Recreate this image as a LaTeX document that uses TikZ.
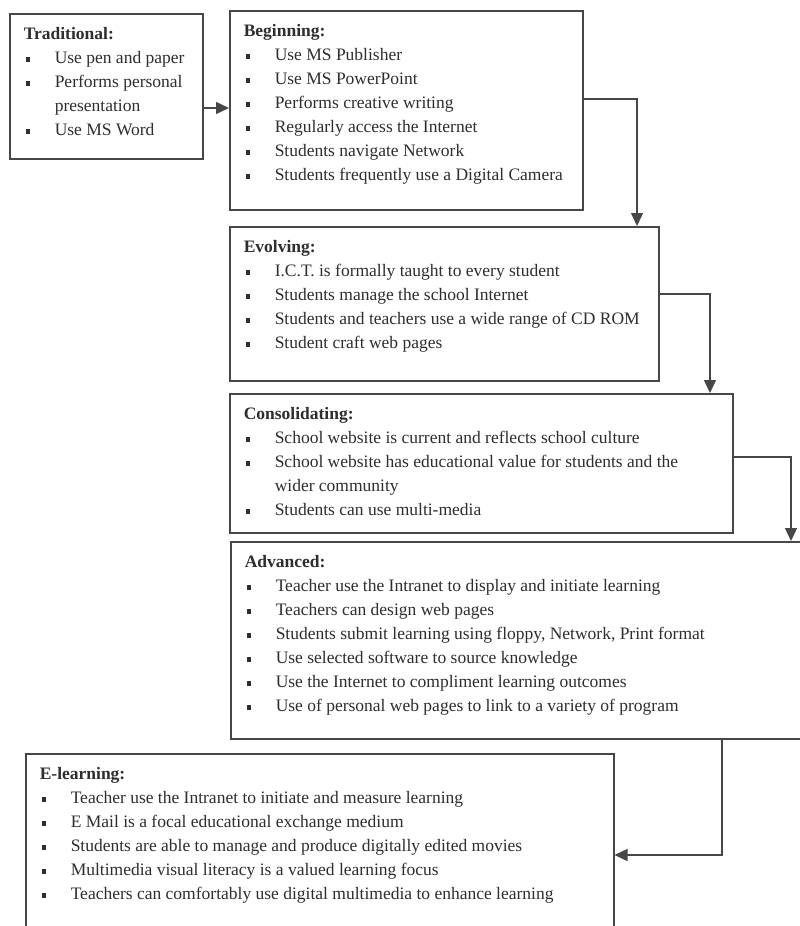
\documentclass[tikz,border=0pt]{standalone}
\usepackage{fontspec}
\setmainfont{Liberation Serif}
\usetikzlibrary{arrows.meta}
\definecolor{ink}{gray}{0.18}
\definecolor{frame}{gray}{0.28}
\newcommand\ptitle[1]{\strut\textbf{#1}\par}
\newcommand\pitem[1]{\makebox[31pt][l]{\hspace{2pt}\raisebox{1.8pt}{\rule{4.5pt}{4.5pt}}}#1\par}
\newcommand\pcont[1]{\hspace*{31pt}#1\par}
\newcommand\panel[6]{\node[panel, minimum width=#4pt, minimum height=#5pt] (#1) at (#2,#3)
  {\parbox[c][\dimexpr #5pt-18pt\relax][t]{\dimexpr #4pt-28pt\relax}{\setlength\parindent{0pt}\raggedright\fontsize{17.5}{24}\selectfont\color{ink}#6}};}
\tikzset{
  panel/.style={draw=frame, line width=1.5pt, inner sep=0pt, anchor=north west, fill=white},
  arr/.style={draw=frame, line width=1.4pt, -{Triangle[length=13pt,width=12pt]}}
}
\begin{document}
\begin{tikzpicture}[x=1pt,y=-1pt]
\useasboundingbox (0,0) rectangle (800,926);
\clip (0,0) rectangle (800,926);
\fill[white] (0,0) rectangle (800,926);
\panel{trad}{9}{13}{193}{145}{%
  \ptitle{Traditional:}
  \pitem{Use pen and paper}
  \pitem{Performs personal}
  \pcont{presentation}
  \pitem{Use MS Word}}
\panel{begin}{229}{10}{353}{199}{%
  \ptitle{Beginning:}
  \pitem{Use MS Publisher}
  \pitem{Use MS PowerPoint}
  \pitem{Performs creative writing}
  \pitem{Regularly access the Internet}
  \pitem{Students navigate Network}
  \pitem{Students frequently use a Digital Camera}}
\panel{evolv}{229}{226}{429}{154}{%
  \ptitle{Evolving:}
  \pitem{I.C.T. is formally taught to every student}
  \pitem{Students manage the school Internet}
  \pitem{Students and teachers use a wide range of CD ROM}
  \pitem{Student craft web pages}}
\panel{consol}{229}{393}{503}{139}{%
  \ptitle{Consolidating:}
  \pitem{School website is current and reflects school culture}
  \pitem{School website has educational value for students and the}
  \pcont{wider community}
  \pitem{Students can use multi-media}}
\panel{adv}{230}{541}{600}{197}{%
  \ptitle{Advanced:}
  \pitem{Teacher use the Intranet to display and initiate learning}
  \pitem{Teachers can design web pages}
  \pitem{Students submit learning using floppy, Network, Print format}
  \pitem{Use selected software to source knowledge}
  \pitem{Use the Internet to compliment learning outcomes}
  \pitem{Use of personal web pages to link to a variety of program}}
\panel{elearn}{25}{753}{588}{230}{%
  \ptitle{E-learning:}
  \pitem{Teacher use the Intranet to initiate and measure learning}
  \pitem{E Mail is a focal educational exchange medium}
  \pitem{Students are able to manage and produce digitally edited movies}
  \pitem{Multimedia visual literacy is a valued learning focus}
  \pitem{Teachers can comfortably use digital multimedia to enhance learning}}
\coordinate (k0) at (0,108);
\coordinate (k1) at (637,99);
\coordinate (k2) at (710,294);
\coordinate (k3) at (791,457);
\coordinate (k4) at (722,855);
\draw[arr] (trad.east |- k0) -- (begin.west |- k0);
\draw[arr] (begin.east |- k1) -| (evolv.north -| k1);
\draw[arr] (evolv.east |- k2) -| (consol.north -| k2);
\draw[arr] (consol.east |- k3) -| (adv.north -| k3);
\draw[arr] (adv.south -| k4) |- (elearn.east |- k4);
\end{tikzpicture}
\end{document}
